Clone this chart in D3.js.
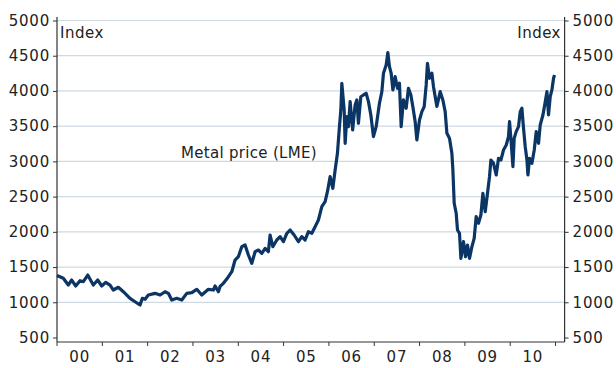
<!DOCTYPE html>
<html>
<head>
<meta charset="utf-8">
<script src="https://cdn.jsdelivr.net/npm/d3@7"></script>
<style>
  body { margin: 0; background: #fff; }
  svg text { font-family: "DejaVu Sans", Verdana, sans-serif; fill: #222; }
</style>
</head>
<body>
<svg width="616" height="368"></svg>
<script>
// decimal years since 2000
var years = [0.000, 0.139, 0.249, 0.325, 0.413, 0.508, 0.581, 0.678, 0.801, 0.898,
  0.987, 1.075, 1.170, 1.243, 1.353, 1.464, 1.611, 1.722, 1.832, 1.883,
  1.943, 2.015, 2.163, 2.274, 2.384, 2.457, 2.532, 2.642, 2.753, 2.863,
  2.974, 3.084, 3.194, 3.340, 3.450, 3.488, 3.561, 3.598, 3.671, 3.746,
  3.857, 3.929, 4.002, 4.077, 4.150, 4.223, 4.298, 4.371, 4.444, 4.519,
  4.592, 4.664, 4.702, 4.762, 4.850, 4.923, 4.996, 5.071, 5.143, 5.232,
  5.327, 5.402, 5.475, 5.547, 5.623, 5.695, 5.768, 5.843, 5.916, 5.967,
  6.026, 6.086, 6.137, 6.188, 6.232, 6.263, 6.285, 6.336, 6.358, 6.395,
  6.430, 6.468, 6.523, 6.578, 6.616, 6.651, 6.704, 6.762, 6.821, 6.872,
  6.925, 6.982, 7.042, 7.115, 7.168, 7.203, 7.263, 7.300, 7.336, 7.373,
  7.411, 7.461, 7.512, 7.556, 7.594, 7.644, 7.704, 7.755, 7.808, 7.852,
  7.903, 7.940, 7.998, 8.051, 8.102, 8.146, 8.174, 8.219, 8.272, 8.307,
  8.382, 8.455, 8.514, 8.565, 8.603, 8.660, 8.713, 8.735, 8.764, 8.808,
  8.837, 8.881, 8.912, 8.969, 9.013, 9.057, 9.102, 9.155, 9.205, 9.249,
  9.300, 9.353, 9.397, 9.448, 9.499, 9.543, 9.574, 9.631, 9.691, 9.742,
  9.795, 9.852, 9.912, 9.962, 9.985, 10.015, 10.060, 10.088, 10.132, 10.183,
  10.221, 10.258, 10.294, 10.331, 10.369, 10.391, 10.426, 10.479, 10.530, 10.574,
  10.625, 10.662, 10.722, 10.773, 10.810, 10.845, 10.883, 10.920, 10.956, 10.978];

// metal price index (LME)
var prices = [1380, 1340, 1245, 1316, 1231, 1306, 1292, 1387, 1245, 1316,
  1231, 1283, 1245, 1174, 1213, 1150, 1056, 1008, 961, 1056,
  1042, 1103, 1127, 1103, 1150, 1127, 1032, 1056, 1032, 1127,
  1136, 1184, 1103, 1184, 1174, 1231, 1150, 1225, 1269, 1330,
  1434, 1600, 1647, 1789, 1813, 1671, 1553, 1718, 1742, 1695,
  1766, 1718, 1955, 1789, 1884, 1931, 1860, 1979, 2026, 1955,
  1860, 1931, 1884, 2002, 1979, 2073, 2168, 2357, 2428, 2570,
  2783, 2618, 2878, 3115, 3493, 3730, 4109, 3730, 3257, 3635,
  3493, 3848, 3446, 3801, 3872, 3541, 3918, 3943, 3967, 3848,
  3659, 3351, 3493, 3825, 3990, 4251, 4368, 4543, 4345, 4251,
  4014, 4203, 4038, 4109, 3493, 3872, 3754, 4038, 3943, 3777,
  3564, 3304, 3588, 3706, 3777, 4085, 4392, 4180, 4251, 4061,
  3780, 3990, 3872, 3706, 3399, 3328, 3115, 2878, 2405, 2263,
  2026, 1979, 1624, 1860, 1647, 1813, 1624, 1789, 1908, 2215,
  2121, 2239, 2547, 2286, 2547, 2783, 3020, 2973, 2807, 3044,
  3020, 3162, 3233, 3351, 3564, 3328, 2925, 3328, 3422, 3493,
  3706, 3754, 3470, 3209, 3020, 2807, 3044, 2973, 3162, 3422,
  3257, 3517, 3659, 3848, 3990, 3659, 3918, 4014, 4180, 4227];

var yTicks = [500, 1000, 1500, 2000, 2500, 3000, 3500, 4000, 4500, 5000];
var gridValues = [1000, 1500, 2000, 2500, 3000, 3500, 4000, 4500, 5000];
var yearLabels = ['00', '01', '02', '03', '04', '05', '06', '07', '08', '09', '10'];
var yearBreaks = [0, 1, 2, 3, 4, 5, 6, 7, 8, 9, 10, 11];

var svg = d3.select('svg');

//plot area edges
var plot = {l: 57, r: 564.6, t: 17, b: 342};

var x = d3.scaleLinear()
    .domain([0, 11.2])
    .range([plot.l, plot.r]);

var y = d3.scaleLinear()
    .domain([500, 5000])
    .range([337.5, 20.5]);

//horizontal grid lines
svg.append('g').selectAll('line')
    .data(gridValues)
    .enter()
    .append('line')
    .attr('x1', plot.l)
    .attr('x2', plot.r)
    .attr('y1', function(d) {return y(d);})
    .attr('y2', function(d) {return y(d);})
    .style('stroke', '#cfd9e2')
    .style('stroke-width', 1.2);

//left axis
var leftAxis = d3.axisLeft(y).tickValues(yTicks).tickFormat(d3.format('d'))
    .tickSize(4).tickPadding(3);
var gl = svg.append('g')
    .attr('transform', 'translate(' + plot.l + ',0)')
    .call(leftAxis);

//right axis
var rightAxis = d3.axisRight(y).tickValues(yTicks).tickFormat(d3.format('d'))
    .tickSize(4).tickPadding(4);
var gr = svg.append('g')
    .attr('transform', 'translate(' + plot.r + ',0)')
    .call(rightAxis);

[gl, gr].forEach(function(g) {
    g.select('.domain').remove();
    g.selectAll('.tick line').style('stroke', '#333');
    g.selectAll('.tick text')
        .style('font-size', '15px')
        .style('letter-spacing', '0.8px')
        .style('font-family', '"DejaVu Sans", Verdana, sans-serif')
        .attr('fill', '#222');
});

//vertical axis lines
svg.append('line')
    .attr('x1', plot.l).attr('x2', plot.l)
    .attr('y1', plot.t).attr('y2', plot.b)
    .style('stroke', '#333').style('stroke-width', 1.2);
svg.append('line')
    .attr('x1', plot.r).attr('x2', plot.r)
    .attr('y1', plot.t).attr('y2', plot.b)
    .style('stroke', '#333').style('stroke-width', 1.2);

//bottom axis line and year ticks
svg.append('line')
    .attr('x1', plot.l).attr('x2', plot.r)
    .attr('y1', plot.b).attr('y2', plot.b)
    .style('stroke', '#333').style('stroke-width', 1.2);

svg.append('g').selectAll('line')
    .data(yearBreaks)
    .enter()
    .append('line')
    .attr('x1', function(d) {return x(d);})
    .attr('x2', function(d) {return x(d);})
    .attr('y1', plot.b)
    .attr('y2', plot.b + 4)
    .style('stroke', '#333');

svg.append('g').selectAll('text')
    .data(yearLabels)
    .enter()
    .append('text')
    .attr('x', function(d, i) {return x(i + 0.5);})
    .attr('y', 362)
    .attr('text-anchor', 'middle')
    .style('font-size', '15px')
    .style('letter-spacing', '0.8px')
    .text(function(d) {return d;});

//the price line
var series = years.map(function(t, i) {return {t: t, v: prices[i]};});

var line = d3.line()
    .x(function(d) {return x(d.t);})
    .y(function(d) {return y(d.v);});

svg.append('path')
    .datum(series)
    .attr('d', line)
    .style('fill', 'none')
    .style('stroke', '#0b3565')
    .style('stroke-width', 3.2)
    .style('stroke-linejoin', 'round');

//labels
svg.append('text')
    .attr('x', 60)
    .attr('y', 38)
    .style('font-size', '15px')
    .style('letter-spacing', '0.5px')
    .text('Index');

svg.append('text')
    .attr('x', 561)
    .attr('y', 38)
    .attr('text-anchor', 'end')
    .style('font-size', '15px')
    .style('letter-spacing', '0.5px')
    .text('Index');

svg.append('text')
    .attr('x', 181)
    .attr('y', 158)
    .style('font-size', '15px')
    .style('letter-spacing', '0.3px')
    .text('Metal price (LME)');
</script>
</body>
</html>
